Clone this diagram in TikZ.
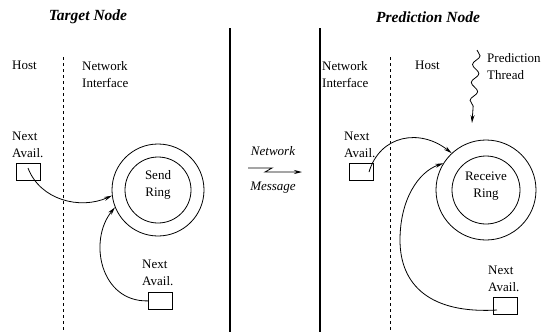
\documentclass[tikz,border=0pt]{standalone}
\usepackage{fontspec}
\setmainfont{Liberation Serif}
\usetikzlibrary{arrows.meta,decorations.pathmorphing}
\tikzset{
  lbl/.style={font=\fontsize{13}{17}\selectfont, inner sep=0pt, align=left},
  title/.style={font=\fontsize{15.5}{18}\selectfont\bfseries\itshape, inner sep=0pt},
  msg/.style={font=\fontsize{13}{17}\selectfont\itshape, inner sep=0pt},
  slot/.style={draw, line width=0.8pt, minimum width=24pt, minimum height=17pt, inner sep=0pt, anchor=north west},
  ring/.style={draw, circle, line width=0.8pt, inner sep=0pt},
  link/.style={line width=0.8pt, -{Stealth[length=8pt,width=4pt]}},
  divider/.style={line width=1.2pt},
  border/.style={line width=0.8pt, dash pattern=on 3pt off 3pt},
}
\begin{document}
\begin{tikzpicture}[x=1pt,y=-1pt]
    \useasboundingbox (0,0) rectangle (545,335);
    % Titles
    \node[title] (tgt) at (88,17) {Target Node};
    \node[title] (pred) at (428,17) {Prediction Node};

    % Separators
    \draw[divider] (230,28) -- (230,332);
    \draw[divider] (320,28) -- (320,332);
    \draw[border] (63,57) -- (63,332);
    \draw[border] (390,57) -- (390,332);

    % Target node
    \node[lbl, anchor=base west] (hostL) at (12,69) {Host};
    \node[lbl, anchor=north west] (niL) at (82,61) {Network\\Interface};
    \node[lbl, anchor=north west] (nextA) at (12,132) {Next\\Avail.};
    \node[slot] (slotA) at (16,163) {};
    \node[ring, minimum size=92pt] (sendO) at (158,190) {};
    \node[ring, minimum size=66pt] (sendI) at (158,190) {};
    \node[lbl, align=center] (send) at (158,185) {Send\\Ring};
    \node[lbl, anchor=north west] (nextB) at (142,260) {Next\\Avail.};
    \node[slot] (slotB) at (148,292) {};
    \draw[link] (28,168) .. controls (40,200) and (80,210) .. (sendO.187);
    \draw[link] (slotB.west) .. controls (100,302) and (88,240) .. (sendO.202);

    % Message
    \node[msg] (netw) at (273,151) {Network};
    \node[msg] (mess) at (273,188) {Message};
    \coordinate (msgA) at (248,168);
    \coordinate (msgB) at (302,172);
    \draw[link] (msgA) -- ++(24,0) -- ++(-7,4) -- (msgB);

    % Prediction node
    \node[lbl, anchor=north west] (niR) at (322,61) {Network\\Interface};
    \node[lbl, anchor=base west] (hostR) at (415,69) {Host};
    \node[lbl, anchor=north west] (thr) at (487,53) {Prediction\\Thread};
    \coordinate (thrTop) at (477,50);
    \coordinate (thrTip) at (472,123);
    \draw[link, decorate, decoration={snake, amplitude=3.5pt, segment length=18pt, post length=10pt}] (thrTop) -- (thrTip);
    \node[lbl, anchor=north west] (nextC) at (344,132) {Next\\Avail.};
    \node[slot] (slotC) at (349,163) {};
    \node[ring, minimum size=100pt] (recvO) at (486,190) {};
    \node[ring, minimum size=68pt] (recvI) at (486,190) {};
    \node[lbl, align=center] (recv) at (486,186) {Receive\\Ring};
    \node[lbl, anchor=north west] (nextD) at (488,266) {Next\\Avail.};
    \node[slot] (slotD) at (493,297) {};
    \draw[link] (369,172) .. controls (380,135) and (420,128) .. (recvO.133);
    \draw[link] (497,310) .. controls (430,314) and (400,285) .. (400,240)
        .. controls (400,200) and (418,172) .. (recvO.148);
\end{tikzpicture}
\end{document}
